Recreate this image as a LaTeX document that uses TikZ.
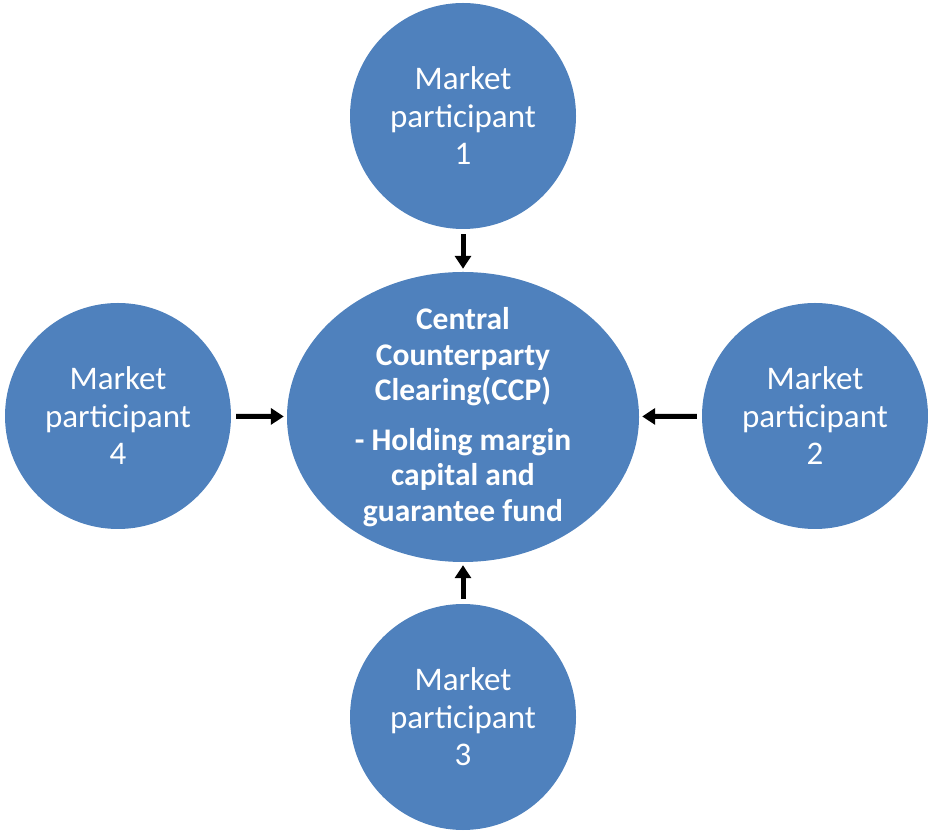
\documentclass[tikz,border=0pt]{standalone}
\usepackage{fontspec}
\setmainfont{Carlito}
\usetikzlibrary{arrows.meta,shapes.geometric}
\definecolor{ppblue}{HTML}{4F81BD}

\begin{document}
\begin{tikzpicture}[x=1pt, y=1pt,
  party/.style={circle, fill=ppblue, minimum size=226pt, inner sep=0pt, text=white, align=center, font=\fontsize{33}{37.5}\selectfont},
  hub/.style={ellipse, fill=ppblue, minimum width=352pt, minimum height=290pt, inner sep=-50pt, text=white, align=center, font=\fontsize{31.5}{35.5}\selectfont\bfseries},
  flow/.style={line width=5pt, -{Triangle[width=16pt,length=13pt]}, shorten <=5pt, shorten >=3pt}]
  \useasboundingbox (0,0) rectangle (928,832);
  \node[hub] (ccp) at (463,415) {Central\\Counterparty\\Clearing(CCP)\\[14pt]- Holding margin\\capital and\\guarantee fund};
  \node[party] (p1) at (463,716) {Market\\participant\\1};
  \node[party] (p2) at (815,416) {Market\\participant\\2};
  \node[party] (p3) at (463,115) {Market\\participant\\3};
  \node[party] (p4) at (118,416) {Market\\participant\\4};
  \draw[flow] (p1) -- (ccp); \draw[flow] (p2) -- (ccp);
  \draw[flow] (p3) -- (ccp); \draw[flow] (p4) -- (ccp);
\end{tikzpicture}
\end{document}
